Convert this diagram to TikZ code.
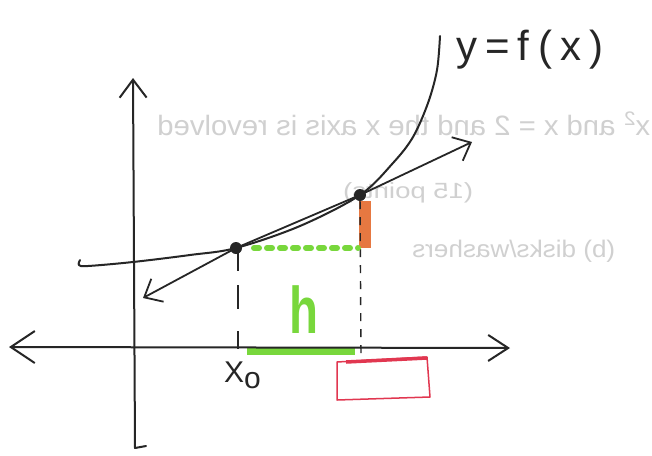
\documentclass[tikz,border=0pt]{standalone}
\usepackage{fontspec}
\setmainfont{Liberation Sans}
\usetikzlibrary{arrows.meta}
\definecolor{ink}{RGB}{38,38,38}
\definecolor{ghost}{RGB}{208,208,208}
\definecolor{hlgreen}{RGB}{120,215,60}
\definecolor{hlorange}{RGB}{230,120,65}
\definecolor{hlred}{RGB}{225,55,80}
\tikzset{
  inkline/.style={draw=ink, line width=2pt, line cap=round, line join=round},
  dotnode/.style={circle, fill=ink, inner sep=0pt, minimum size=12pt},
  ghosttext/.style={text=ghost, inner sep=0pt, anchor=base west},
  handtext/.style={inner sep=0pt, anchor=base west},
  barbtip/.tip={Straight Barb[length=15pt,width=26pt]},
}
\begin{document}
\begin{tikzpicture}[x=1pt,y=-1pt]
\fill[white] (0,0) rectangle (652,455);
\useasboundingbox (0,0) rectangle (652,455);
% faint mirrored text showing through the paper
\node[ghosttext] (g1) at (157,135) {\fontsize{28}{30}\selectfont\reflectbox{\resizebox{493pt}{\height}{x\textsuperscript{2} and x = 2 and the x axis is revolved}}};
\node[ghosttext] (g2) at (343,198) {\fontsize{22}{24}\selectfont\reflectbox{\resizebox{130pt}{\height}{(15 points)}}};
\node[ghosttext] (g3) at (412,257) {\fontsize{24}{26}\selectfont\reflectbox{\resizebox{203pt}{\height}{(b) disks/washers}}};
% coordinates
\coordinate (yT) at (133,78);
\coordinate (yB) at (135,448);
\coordinate (yH) at (146,446);
\coordinate (xL) at (9,347);
\coordinate (xR) at (510,348);
\coordinate (sA) at (143,298);
\coordinate (sB) at (472,142);
\coordinate (gA) at (247,351);
\coordinate (gB) at (355,351);
\coordinate (oT) at (365,201);
\coordinate (oB) at (365,248);
\coordinate (dA) at (254,248);
\coordinate (dB) at (358,248);
\coordinate (v1) at (238,251);
\coordinate (v1b) at (238,350);
\coordinate (v2b) at (361,358);
% highlights under the axis
\draw[hlgreen, line width=8pt] (gA) -- (gB);
\draw[hlorange, line width=12pt] (oT) -- (oB);
% axes
\draw[inkline, {Straight Barb[length=24pt,width=32pt]}-{Straight Barb[length=20pt,width=26pt]}] (xL) -- (xR);
\draw[inkline, {Straight Barb[length=18pt,width=27pt]}-] (yT) -- (yB) -- (yH);
% points
\node[dotnode] (p1) at (236,248) {};
\node[dotnode] (p2) at (360,195) {};
% curve y = f(x)
\draw[inkline] plot[smooth, tension=0.55] coordinates {(80,260) (79,265) (88,266) (133,262) (190,255) (236,248) (300,226) (360,195) (393,163) (413,137) (428,103) (437,70) (440,36)};
% secant line
\draw[inkline, line width=1.8pt, barbtip-barbtip] (sA) -- (p1.center) -- (p2.center) -- (sB);
% dashed verticals
\draw[ink, line width=2pt, dash pattern=on 20pt off 14pt on 24pt off 22pt on 18pt off 100pt] (v1) -- (v1b);
\draw[ink, line width=1.4pt, dash pattern=on 8pt off 8pt] (p2) -- (v2b);
% green dotted line
\draw[hlgreen, line width=6pt, line cap=round, dash pattern=on 5pt off 8pt] (dA) -- (dB);
% labels
\node[handtext, text=hlgreen] (h) at (289,333) {\fontsize{66}{70}\selectfont\bfseries\resizebox{29pt}{\height}{h}};
\node[handtext, text=ink] (lab) at (456,60) {\fontsize{42}{44}\selectfont y\kern8pt=\kern8pt f\kern9pt(\kern8pt x\kern8pt)};
\node[handtext, text=ink] (x0) at (224,382) {\fontsize{30}{32}\selectfont X\raisebox{-6pt}{o}};
% red box
\draw[hlred, line width=1.5pt, line join=round] (337,362) -- (427,357) -- (430,397) -- (337,400) -- cycle;
\draw[hlred, line width=3.5pt] (346,362) -- (427,358);
\end{tikzpicture}
\end{document}
